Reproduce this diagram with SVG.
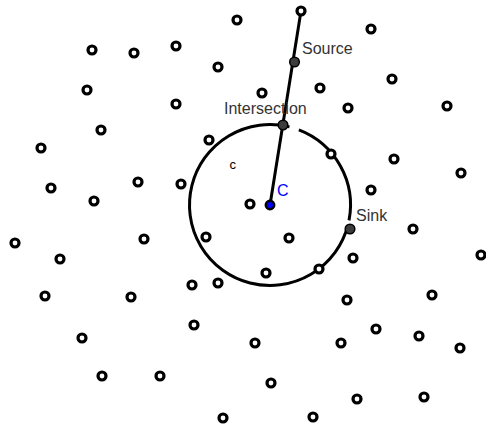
<svg xmlns="http://www.w3.org/2000/svg" width="486" height="428" viewBox="0 0 486 428">
<style>
.pt{fill:#fff;stroke:#000;stroke-width:3.2}
.big{fill:#3c3c3c;stroke:#000;stroke-width:1.5}
.lbl{font-family:"Liberation Sans",Arial,sans-serif;font-size:16px;fill:#333}
.ln{fill:none;stroke:#000;stroke-width:3}
</style>
<rect width="486" height="428" fill="#fff"/>
<g id="connectors">
<path class="ln" d="M298.85,129.85 A80.5,80.5 0 0 1 349.02,220.36 M347.93,225.16 A80.5,80.5 0 1 1 289.47,126.89"/>
<line class="ln" x1="301" y1="11" x2="270" y2="205"/>
</g>
<g id="points">
<circle class="pt" cx="237" cy="20" r="4"/>
<circle class="pt" cx="301" cy="11" r="4"/>
<circle class="pt" cx="371" cy="29" r="4"/>
<circle class="pt" cx="92" cy="50" r="4"/>
<circle class="pt" cx="134" cy="53" r="4"/>
<circle class="pt" cx="176" cy="46" r="4"/>
<circle class="pt" cx="218" cy="67" r="4"/>
<circle class="pt" cx="320" cy="88" r="4"/>
<circle class="pt" cx="392" cy="79" r="4"/>
<circle class="pt" cx="87" cy="90" r="4"/>
<circle class="pt" cx="176" cy="104" r="4"/>
<circle class="pt" cx="262" cy="93" r="4"/>
<circle class="pt" cx="348" cy="108" r="4"/>
<circle class="pt" cx="447" cy="106" r="4"/>
<circle class="pt" cx="101" cy="130" r="4"/>
<circle class="pt" cx="209" cy="140" r="4"/>
<circle class="pt" cx="331" cy="154" r="4"/>
<circle class="pt" cx="394" cy="159" r="4"/>
<circle class="pt" cx="41" cy="148" r="4"/>
<circle class="pt" cx="461" cy="173" r="4"/>
<circle class="pt" cx="51" cy="188" r="4"/>
<circle class="pt" cx="138" cy="182" r="4"/>
<circle class="pt" cx="181" cy="184" r="4"/>
<circle class="pt" cx="371" cy="190" r="4"/>
<circle class="pt" cx="94" cy="201" r="4"/>
<circle class="pt" cx="250" cy="204" r="4"/>
<circle class="pt" cx="15" cy="243" r="4"/>
<circle class="pt" cx="144" cy="239" r="4"/>
<circle class="pt" cx="206" cy="237" r="4"/>
<circle class="pt" cx="289" cy="238" r="4"/>
<circle class="pt" cx="413" cy="229" r="4"/>
<circle class="pt" cx="60" cy="259" r="4"/>
<circle class="pt" cx="481" cy="255" r="4"/>
<circle class="pt" cx="353" cy="258" r="4"/>
<circle class="pt" cx="266" cy="273" r="4"/>
<circle class="pt" cx="319" cy="269" r="4"/>
<circle class="pt" cx="192" cy="285" r="4"/>
<circle class="pt" cx="218" cy="283" r="4"/>
<circle class="pt" cx="45" cy="296" r="4"/>
<circle class="pt" cx="131" cy="297" r="4"/>
<circle class="pt" cx="347" cy="300" r="4"/>
<circle class="pt" cx="432" cy="295" r="4"/>
<circle class="pt" cx="194" cy="325" r="4"/>
<circle class="pt" cx="376" cy="329" r="4"/>
<circle class="pt" cx="419" cy="336" r="4"/>
<circle class="pt" cx="82" cy="338" r="4"/>
<circle class="pt" cx="255" cy="343" r="4"/>
<circle class="pt" cx="341" cy="343" r="4"/>
<circle class="pt" cx="460" cy="348" r="4"/>
<circle class="pt" cx="102" cy="376" r="4"/>
<circle class="pt" cx="160" cy="376" r="4"/>
<circle class="pt" cx="271" cy="383" r="4"/>
<circle class="pt" cx="357" cy="399" r="4"/>
<circle class="pt" cx="424" cy="397" r="4"/>
<circle class="pt" cx="223" cy="418" r="4"/>
<circle class="pt" cx="313" cy="417" r="4"/>
</g>
<g id="source">
<circle class="big" cx="294.5" cy="62" r="4.8"/>
<text class="lbl" x="302" y="54">Source</text>
</g>
<g id="intersection">
<circle class="big" cx="283" cy="125" r="4.8"/>
<text class="lbl" x="224" y="113.5">Intersection</text>
</g>
<g id="sink">
<circle class="big" cx="350" cy="229" r="4.8"/>
<text class="lbl" x="356" y="221">Sink</text>
</g>
<g id="center">
<circle cx="270" cy="205" r="4.2" fill="#0000ff" stroke="#000" stroke-width="2.5"/>
<text x="277" y="196" font-family="Liberation Sans, Arial, sans-serif" font-size="16" fill="#0000ff">C</text>
</g>
<g id="circle-label">
<text x="229.5" y="169" font-family="Liberation Sans, Arial, sans-serif" font-size="13" fill="#000">c</text>
</g>
</svg>
